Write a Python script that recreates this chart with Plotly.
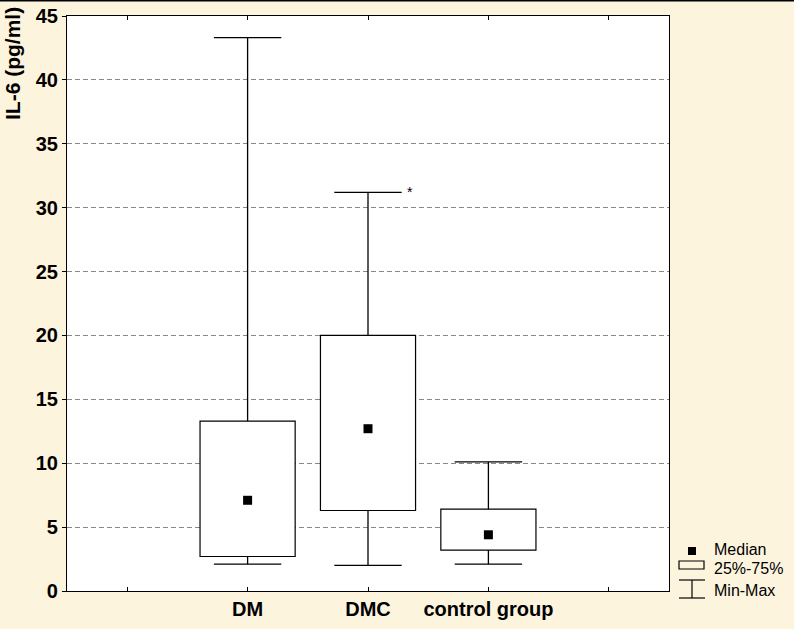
import plotly.graph_objects as go

groups = ['DM', 'DMC', 'control group']
positions = [1, 2, 3]
mins = [2.1, 2.0, 2.1]
q1 = [2.7, 6.3, 3.2]
medians = [7.1, 12.7, 4.4]
q3 = [13.3, 20.0, 6.4]
maxs = [43.3, 31.2, 10.1]
star_group = 'DMC'

box_w = 0.79
cap_half = 0.28
font = 'Liberation Sans, Arial, sans-serif'
bg = '#fdf4de'

fig = go.Figure()

# boxes 25%-75%
fig.add_trace(go.Bar(x=positions, y=[b - a for a, b in zip(q1, q3)], base=q1, width=box_w,
                     marker=dict(color='white', line=dict(color='black', width=1.2)),
                     showlegend=False, hoverinfo='skip'))

# whiskers + caps
wx, wy = [], []
for p, lo, a, b, hi in zip(positions, mins, q1, q3, maxs):
    wx += [p, p, None, p, p, None, p - cap_half, p + cap_half, None, p - cap_half, p + cap_half, None]
    wy += [b, hi, None, lo, a, None, hi, hi, None, lo, lo, None]
fig.add_trace(go.Scatter(x=wx, y=wy, mode='lines', line=dict(color='black', width=1.3),
                         showlegend=False, hoverinfo='skip'))

# medians
fig.add_trace(go.Scatter(x=positions, y=medians, mode='markers',
                         marker=dict(symbol='square', size=9, color='black'),
                         showlegend=False))

i = groups.index(star_group)
fig.add_annotation(x=positions[i] + cap_half + 0.03, y=maxs[i], text='*', showarrow=False,
                   xanchor='left', yanchor='middle', font=dict(size=14, color='black', family=font))

fig.update_xaxes(range=[-0.5, 4.5], tickvals=[0, 1, 2, 3, 4], ticktext=[''] + groups + [''],
                 ticks='inside', ticklen=4, tickcolor='black', showgrid=False, zeroline=False,
                 showline=True, linecolor='black', linewidth=1.2, mirror='ticks', automargin=False,
                 tickfont=dict(size=20, color='black', family=font, weight='bold'))
fig.update_yaxes(range=[0, 45], dtick=5, ticks='outside', ticklen=4, tickcolor='black',
                 showgrid=True, gridcolor='#888888', griddash='5px,3px', gridwidth=1, zeroline=False,
                 showline=True, linecolor='black', linewidth=1.2, mirror=True, automargin=False,
                 tickfont=dict(size=20, color='black', family=font, weight='bold'))

# legend drawn by hand below right of the plot
W, H = 794, 629
def px(x):
    return (x - 67) / 602
def py(y):
    return (591 - y) / 575

fig.add_annotation(xref='paper', yref='paper', x=px(12), y=py(64), text='<b>IL-6 (pg/ml)</b>',
                   textangle=-90, showarrow=False, xanchor='center', yanchor='middle',
                   font=dict(size=21, color='black', family=font))

lk = dict(xref='paper', yref='paper')
fig.add_shape(type='rect', x0=px(688), x1=px(696), y0=py(547), y1=py(555), fillcolor='black',
              line=dict(width=0), **lk)
fig.add_shape(type='rect', x0=px(679), x1=px(704), y0=py(561), y1=py(569), fillcolor='rgba(0,0,0,0)',
              line=dict(color='black', width=1.2), **lk)
for y0, y1, x0, x1 in [(580, 580, 679, 705), (598, 598, 679, 705), (580, 598, 692, 692)]:
    fig.add_shape(type='line', x0=px(x0), x1=px(x1), y0=py(y0), y1=py(y1),
                  line=dict(color='black', width=1.2), **lk)
for txt, y in [('Median', 549), ('25%-75%', 568), ('Min-Max', 590)]:
    fig.add_annotation(x=px(713), y=py(y), text=txt, showarrow=False, xanchor='left', yanchor='middle',
                       borderpad=0, font=dict(size=16, color='black', family=font), **lk)

# thin black rule across the top of the page
fig.add_shape(type='line', xref='paper', yref='paper', x0=px(0), x1=px(W), y0=py(0.8), y1=py(0.8),
              line=dict(color='black', width=1.6))

fig.update_layout(width=W, height=H, margin=dict(l=67, r=125, t=16, b=38),
                  paper_bgcolor=bg, plot_bgcolor='white', showlegend=False,
                  font=dict(family=font, color='black'))

fig.write_html('out.html', config={'displayModeBar': False},
               post_script="document.body.style.margin='0';document.body.style.background='%s';" % bg)
